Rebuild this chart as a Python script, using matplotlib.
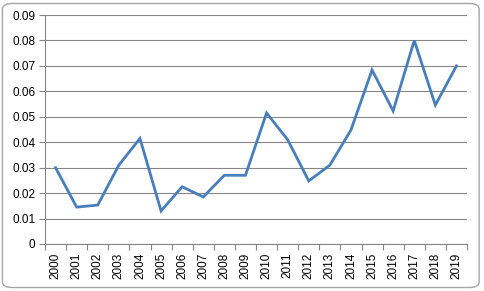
import numpy as np
import matplotlib.pyplot as plt
from matplotlib.patches import FancyBboxPatch

years = [str(y) for y in range(2000, 2020)]
values = [0.030, 0.0145, 0.0153, 0.031, 0.0415, 0.013, 0.0225, 0.0185, 0.027, 0.027,
          0.0515, 0.041, 0.0248, 0.031, 0.0448, 0.0684, 0.0523, 0.080, 0.0546, 0.070]
yticks = [0, 0.01, 0.02, 0.03, 0.04, 0.05, 0.06, 0.07, 0.08, 0.09]
ytick_labels = ['0', '0.01', '0.02', '0.03', '0.04', '0.05', '0.06', '0.07', '0.08', '0.09']

plt.rcParams['font.family'] = ['Liberation Sans', 'DejaVu Sans']

fig = plt.figure(figsize=(4.84, 2.91), dpi=100)
fig.patch.set_facecolor('white')

# chart frame
frame = FancyBboxPatch((0.005, 0.012), 0.985, 0.976, boxstyle='round,pad=0,rounding_size=0.02',
                       transform=fig.transFigure, facecolor='white', edgecolor='#a6a6a6',
                       linewidth=1.0, zorder=-1)
fig.patches.append(frame)

ax = fig.add_axes([45 / 484, 1 - 244 / 291, 422 / 484, 229 / 291])
ax.set_facecolor('none')

x = np.arange(len(years))
ax.plot(x, values, color='#4a7ebb', linewidth=2.0, solid_joinstyle='miter', zorder=3)

ax.set_xlim(-0.5, len(years) - 0.5)
ax.set_ylim(0, 0.09)
ax.set_yticks(yticks)
ax.set_yticklabels(ytick_labels, fontsize=8.5)
ax.set_xticks(x)
ax.set_xticklabels(years, rotation=90, fontsize=8.5)
ax.set_xticks(np.arange(-0.5, len(years)), minor=True)
ax.tick_params(axis='x', which='major', length=0, pad=6)
ax.tick_params(axis='x', which='minor', length=4, color='#868686', width=0.8)
ax.tick_params(axis='y', length=4, color='#868686', width=0.8, pad=3)

ax.grid(axis='y', color='#868686', linewidth=0.8)
ax.set_axisbelow(True)
for side in ['top', 'right']:
    ax.spines[side].set_visible(False)
for side in ['left', 'bottom']:
    ax.spines[side].set_color('#868686')
    ax.spines[side].set_linewidth(0.8)

fig.savefig('out.png', dpi=100)
